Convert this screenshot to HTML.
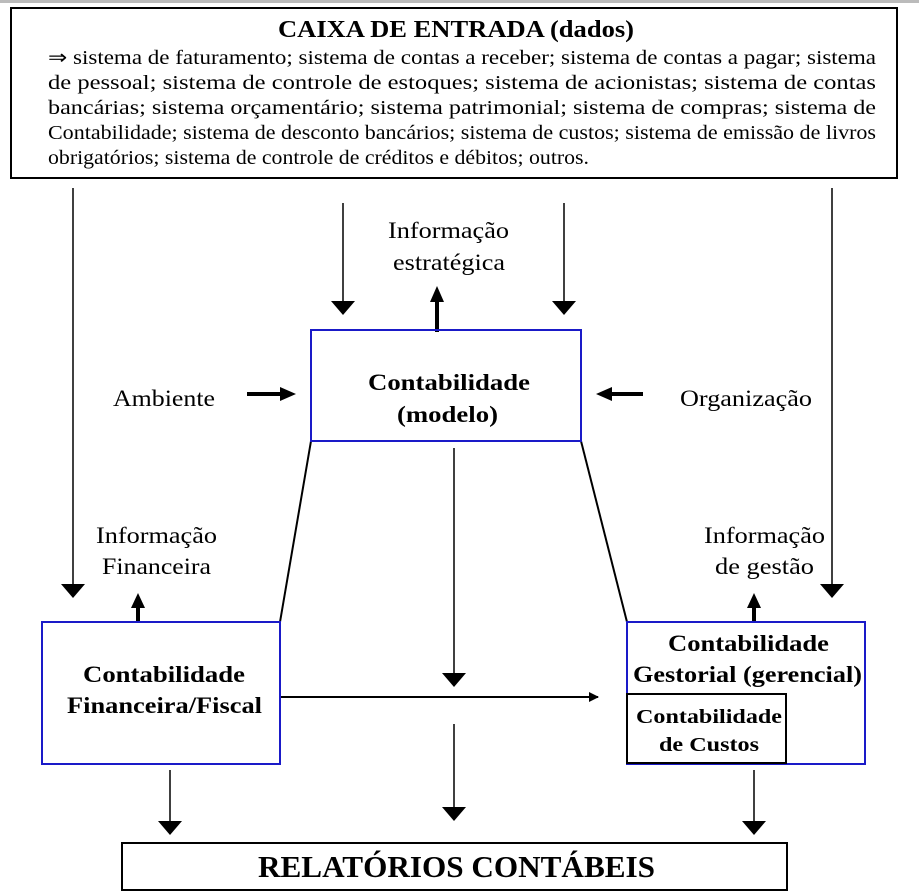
<!DOCTYPE html>
<html><head><meta charset="utf-8"><style>
html,body{margin:0;padding:0;background:#fff;}
svg{display:block;}
text{font-family:"Liberation Serif",serif;fill:#000;}
</style></head><body>
<svg width="919" height="895" viewBox="0 0 919 895" xmlns="http://www.w3.org/2000/svg">
<defs>
<marker id="a" markerWidth="10" markerHeight="10" refX="9" refY="5" orient="auto" markerUnits="userSpaceOnUse">
<path d="M0,0 L10,5 L0,10 z" fill="#000"/></marker>
<marker id="b" markerWidth="24" markerHeight="24" refX="13" refY="12" orient="auto" markerUnits="userSpaceOnUse">
<path d="M0,0 L14,12 L0,24 z" fill="#000"/></marker>
</defs>
<rect x="0" y="0" width="919" height="3" fill="#bbb"/>
<rect x="11" y="8" width="886" height="170" fill="none" stroke="#000" stroke-width="2"/>
<text x="278" y="37" font-size="24" font-weight="bold" textLength="356" lengthAdjust="spacingAndGlyphs">CAIXA DE ENTRADA (dados)</text>
<g font-size="20">
<text x="48" y="64" textLength="828" lengthAdjust="spacingAndGlyphs">⇒  sistema de faturamento; sistema de contas a receber; sistema de contas a pagar; sistema</text>
<text x="48" y="89" textLength="828" lengthAdjust="spacingAndGlyphs">de pessoal;  sistema  de  controle  de  estoques;  sistema  de  acionistas;  sistema  de  contas</text>
<text x="48" y="114" textLength="828" lengthAdjust="spacingAndGlyphs">bancárias;  sistema  orçamentário;  sistema  patrimonial;  sistema  de  compras;  sistema  de</text>
<text x="48" y="139" textLength="828" lengthAdjust="spacingAndGlyphs">Contabilidade; sistema de desconto bancários; sistema de custos; sistema de emissão de livros</text>
<text x="48" y="164" textLength="541" lengthAdjust="spacingAndGlyphs">obrigatórios; sistema de controle de créditos e débitos; outros.</text>
</g>
<g stroke="#000" stroke-width="1.5" fill="none">
<line x1="73" y1="188" x2="73" y2="597" marker-end="url(#b)"/>
<line x1="832" y1="188" x2="832" y2="597" marker-end="url(#b)"/>
<line x1="343" y1="203" x2="343" y2="314" marker-end="url(#b)"/>
<line x1="564" y1="203" x2="564" y2="314" marker-end="url(#b)"/>
<line x1="454" y1="448" x2="454" y2="686" marker-end="url(#b)"/>
<line x1="454" y1="724" x2="454" y2="820" marker-end="url(#b)"/>
<line x1="170" y1="770" x2="170" y2="834" marker-end="url(#b)"/>
<line x1="754" y1="770" x2="754" y2="834" marker-end="url(#b)"/>
<line x1="280" y1="697" x2="598" y2="697" stroke-width="2" marker-end="url(#a)"/>
<line x1="311" y1="441" x2="280" y2="622" stroke-width="2"/>
<line x1="581" y1="441" x2="627" y2="622" stroke-width="2"/>
</g>
<g stroke="#000" stroke-width="4" fill="none">
<line x1="437" y1="332" x2="437" y2="296"/>
<line x1="138" y1="622" x2="138" y2="602"/>
<line x1="754" y1="622" x2="754" y2="602"/>
<line x1="247" y1="394" x2="283" y2="394"/>
<line x1="643" y1="394" x2="609" y2="394"/>
</g>
<g fill="#000">
<path d="M430,302 L444,302 L437,286 z"/>
<path d="M131,608 L145,608 L138,593 z"/>
<path d="M747,608 L761,608 L754,593 z"/>
<path d="M280,387 L280,401 L296,394 z"/>
<path d="M612,387 L612,401 L596,394 z"/>
</g>
<rect x="311" y="330" width="270" height="111" fill="none" stroke="#1a1ac8" stroke-width="2"/>
<rect x="42" y="622" width="238" height="142" fill="none" stroke="#1a1ac8" stroke-width="2"/>
<rect x="627" y="622" width="238" height="142" fill="none" stroke="#1a1ac8" stroke-width="2"/>
<rect x="627" y="694" width="159" height="69" fill="none" stroke="#000" stroke-width="2"/>
<rect x="122" y="843" width="665" height="47" fill="none" stroke="#000" stroke-width="2"/>
<g font-size="23">
<text x="388" y="238" textLength="121" lengthAdjust="spacingAndGlyphs">Informação</text>
<text x="393" y="270" textLength="112" lengthAdjust="spacingAndGlyphs">estratégica</text>
<text x="96" y="543" textLength="121" lengthAdjust="spacingAndGlyphs">Informação</text>
<text x="102" y="574" textLength="109" lengthAdjust="spacingAndGlyphs">Financeira</text>
<text x="704" y="543" textLength="121" lengthAdjust="spacingAndGlyphs">Informação</text>
<text x="715" y="574" textLength="99" lengthAdjust="spacingAndGlyphs">de gestão</text>
<text x="113" y="406" textLength="102" lengthAdjust="spacingAndGlyphs">Ambiente</text>
<text x="680" y="406" textLength="132" lengthAdjust="spacingAndGlyphs">Organização</text>
</g>
<g font-weight="bold" font-size="23">
<text x="368" y="390" textLength="162" lengthAdjust="spacingAndGlyphs">Contabilidade</text>
<text x="397" y="422" textLength="101" lengthAdjust="spacingAndGlyphs">(modelo)</text>
<text x="83" y="682" textLength="162" lengthAdjust="spacingAndGlyphs">Contabilidade</text>
<text x="67" y="713" textLength="195" lengthAdjust="spacingAndGlyphs">Financeira/Fiscal</text>
<text x="668" y="651" textLength="161" lengthAdjust="spacingAndGlyphs">Contabilidade</text>
<text x="633" y="682" textLength="229" lengthAdjust="spacingAndGlyphs">Gestorial (gerencial)</text>
<text x="636" y="723" font-size="20" textLength="146" lengthAdjust="spacingAndGlyphs">Contabilidade</text>
<text x="659" y="751" font-size="20" textLength="100" lengthAdjust="spacingAndGlyphs">de Custos</text>
<text x="258" y="877" font-size="31" textLength="397" lengthAdjust="spacingAndGlyphs">RELATÓRIOS CONTÁBEIS</text>
</g>
</svg>
</body></html>
